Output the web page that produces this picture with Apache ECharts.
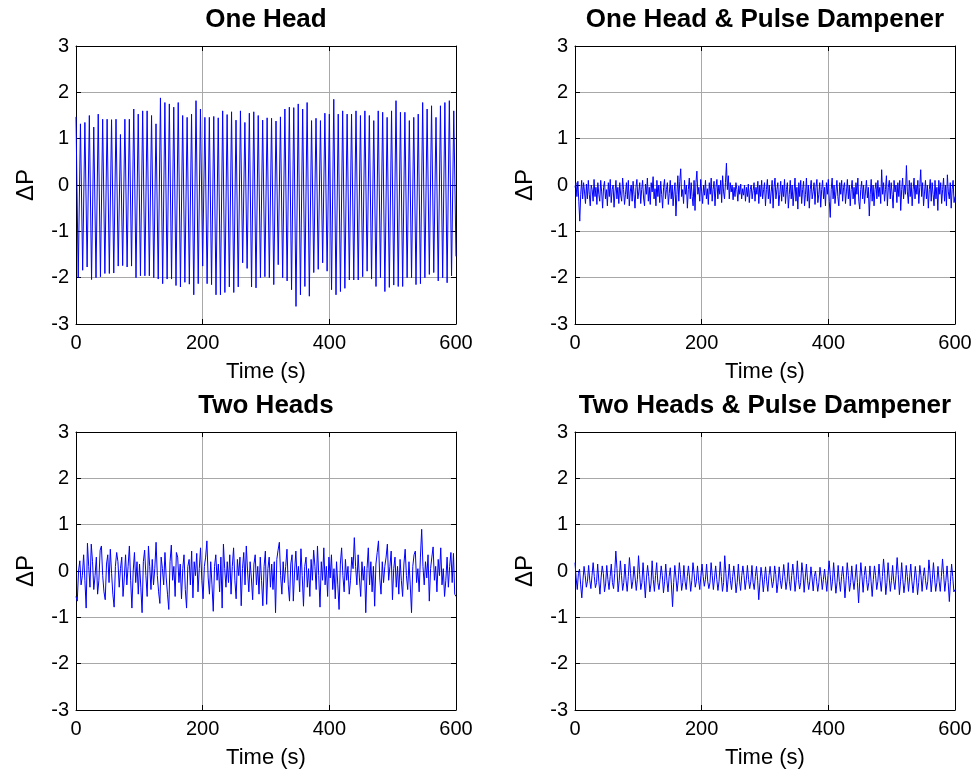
<!DOCTYPE html>
<html>
<head>
<meta charset="utf-8">
<title>Pressure fluctuation</title>
<script src="https://cdn.jsdelivr.net/npm/echarts@6/dist/echarts.min.js"></script>
<style>
  html, body { margin: 0; padding: 0; background: #fff; }
  #main { width: 975px; height: 780px; }
</style>
</head>
<body>
<div id="main"></div>
<script>
// Recording length (s); every trace is sampled evenly over it
const duration = 600;

// Panel titles
const panelTitles = ['One Head', 'One Head & Pulse Dampener', 'Two Heads', 'Two Heads & Pulse Dampener'];

// Axis ticks
const timeTicks = { min: 0, max: 600, interval: 200 };
const dpTicks = { min: -3, max: 3, interval: 1 };

// One Head: stroke maxima and minima, one pair per pump cycle
const oneHeadPeaks = [
  1.47, 1.32, 1.35, 1.50, 1.25, 1.53, 1.42, 1.42, 1.41, 1.42,
  1.09, 1.42, 1.42, 1.64, 1.53, 1.60, 1.60, 1.50, 1.32, 1.88,
  1.78, 1.75, 1.68, 1.78, 1.50, 1.46, 1.53, 1.82, 1.64, 1.46,
  1.46, 1.48, 1.45, 1.60, 1.52, 1.58, 1.40, 1.60, 1.35, 1.55,
  1.58, 1.50, 1.40, 1.45, 1.44, 1.38, 1.47, 1.64, 1.68, 1.67,
  1.75, 1.64, 1.78, 1.39, 1.44, 1.39, 1.55, 1.53, 1.85, 1.53,
  1.60, 1.53, 1.53, 1.60, 1.50, 1.60, 1.50, 1.39, 1.60, 1.57,
  1.46, 1.60, 1.82, 1.57, 1.57, 1.39, 1.46, 1.53, 1.78, 1.64,
  1.71, 1.46, 1.71, 1.78, 1.82, 1.60
];
const oneHeadTroughs = [
  -2.00, -1.84, -1.77, -2.04, -2.00, -1.98, -1.91, -1.91, -1.90, -1.75,
  -1.74, -1.77, -1.75, -2.00, -1.96, -1.96, -1.96, -2.00, -2.03, -2.13,
  -2.03, -2.03, -2.17, -2.20, -2.10, -2.14, -2.37, -2.13, -1.75, -2.13,
  -2.15, -2.37, -2.37, -2.32, -2.20, -2.32, -2.20, -1.68, -1.80, -2.20,
  -2.22, -2.00, -1.98, -2.00, -2.15, -1.72, -2.00, -2.07, -2.26, -2.62,
  -2.37, -2.19, -2.40, -1.89, -1.82, -1.68, -1.86, -2.26, -2.37, -2.30,
  -2.23, -2.05, -2.05, -2.05, -1.98, -1.86, -2.03, -2.19, -2.00, -2.30,
  -2.21, -2.16, -2.19, -2.19, -2.00, -2.00, -2.15, -2.13, -2.00, -1.93,
  -1.89, -2.07, -2.00, -2.11, -1.96, -1.54
];

// One Head & Pulse Dampener (each row spans 30 s)
const oneHeadDamped = [
  -0.05, 0.05, -0.25, 0.08, -0.35, -0.78, -0.20, 0.10, -0.30, 0.05, -0.15, -0.40, 0.02, -0.30, 0.10, -0.20, -0.45, 0.00, -0.10, -0.35,
  0.12, -0.25, -0.05, -0.42, 0.05, -0.20, -0.35, 0.10, -0.15, -0.50, -0.05, 0.08, -0.30, -0.10, -0.45, 0.05, -0.25, 0.12, -0.38, -0.10,
  0.00, -0.48, -0.15, 0.10, -0.30, -0.05, -0.40, 0.05, -0.22, -0.35, 0.15, -0.10, -0.42, -0.20, 0.05, -0.30, 0.10, -0.45, -0.15, 0.00,
  -0.35, 0.08, -0.20, -0.50, -0.05, 0.12, -0.30, -0.15, 0.05, -0.40, -0.10, 0.10, -0.28, -0.45, 0.02, -0.20, 0.15, -0.35, -0.05, -0.42,
  0.05, -0.15, 0.18, -0.30, -0.08, -0.45, 0.10, -0.25, 0.00, -0.38, 0.08, -0.20, -0.50, -0.05, 0.12, -0.30, -0.10, 0.05, -0.42, -0.18,
  0.10, -0.30, 0.00, -0.45, -0.15, 0.05, -0.67, -0.20, 0.20, -0.35, 0.08, 0.35, -0.25, -0.10, -0.40, 0.10, -0.20, 0.00, -0.50, -0.10,
  0.15, -0.30, 0.05, -0.25, -0.45, 0.10, -0.55, 0.05, 0.30, -0.20, -0.05, -0.35, 0.12, -0.15, -0.40, 0.00, -0.22, 0.10, -0.30, -0.08,
  -0.42, 0.05, -0.20, 0.15, -0.35, -0.10, 0.08, -0.45, -0.05, 0.12, -0.30, 0.00, -0.20, 0.10, -0.38, 0.20, -0.15, -0.30, 0.05, 0.47,
  -0.10, 0.20, -0.30, 0.05, -0.15, 0.00, -0.32, -0.05, -0.25, 0.05, -0.10, -0.35, -0.02, -0.20, 0.02, -0.30, -0.08, -0.22, 0.00, -0.35,
  -0.05, -0.25, 0.02, -0.38, -0.10, 0.00, -0.30, -0.12, 0.05, -0.35, -0.05, -0.20, 0.08, -0.40, 0.00, -0.25, 0.10, -0.30, -0.10, 0.05,
  -0.45, -0.10, 0.12, -0.30, 0.00, -0.40, -0.15, 0.10, -0.50, -0.05, 0.15, -0.30, -0.10, 0.05, -0.45, -0.20, 0.08, -0.35, 0.00, -0.25,
  0.12, -0.40, -0.10, 0.05, -0.50, -0.20, 0.10, -0.30, 0.00, -0.45, -0.15, 0.15, -0.35, -0.05, -0.52, 0.05, -0.25, 0.10, -0.40, -0.10,
  0.08, -0.45, -0.20, 0.15, -0.35, 0.00, -0.50, -0.10, 0.10, -0.30, -0.15, 0.05, -0.42, -0.05, 0.12, -0.38, -0.20, 0.05, -0.48, -0.10,
  0.10, -0.30, -0.05, -0.45, 0.05, -0.20, 0.12, -0.35, -0.70, -0.10, 0.15, -0.30, 0.00, -0.40, -0.15, 0.10, -0.25, -0.45, 0.05, -0.20,
  0.10, -0.35, -0.05, 0.05, -0.40, -0.15, 0.12, -0.30, 0.00, -0.45, -0.10, 0.10, -0.30, -0.05, -0.42, 0.05, -0.20, 0.15, -0.35, -0.52,
  -0.10, 0.08, -0.30, 0.00, -0.40, -0.15, 0.10, -0.28, -0.05, -0.67, -0.20, 0.12, -0.35, 0.00, -0.45, -0.10, 0.05, -0.30, 0.10, -0.25,
  -0.05, -0.40, 0.33, -0.20, 0.05, -0.35, -0.10, 0.20, -0.45, -0.05, 0.10, -0.30, 0.05, -0.20, -0.50, 0.10, -0.15, 0.00, -0.38, 0.05,
  -0.25, 0.10, -0.55, -0.10, 0.15, -0.30, 0.00, -0.20, 0.42, -0.15, -0.40, 0.10, -0.25, 0.05, -0.45, -0.10, 0.15, -0.30, 0.00, -0.20,
  0.10, -0.40, -0.05, 0.33, -0.25, 0.05, -0.45, -0.15, 0.10, -0.30, 0.00, -0.50, -0.10, 0.12, -0.35, 0.05, -0.20, -0.45, 0.10, -0.30,
  -0.05, -0.55, 0.10, -0.20, 0.05, -0.40, -0.10, 0.15, -0.35, 0.00, -0.45, 0.22, -0.15, -0.30, 0.05, -0.50, -0.10, 0.10, -0.38, -0.25
];

// Two Heads (each row spans 40 s)
const twoHeads = [
  -0.55, -0.65, 0.00, 0.22, -0.30, -0.10, 0.35, -0.20, -0.80, 0.60, 0.10, -0.35, 0.58, 0.20, -0.40, -0.10, 0.30, -0.50, -0.20, 0.45,
  0.54, -0.10, -0.45, -0.62, 0.15, 0.35, -0.25, 0.47, -0.05, -0.50, -0.78, 0.10, 0.40, 0.20, -0.35, 0.05, 0.30, -0.55, -0.15, 0.35,
  -0.30, 0.10, 0.54, -0.20, -0.80, 0.00, 0.40, -0.25, 0.20, -0.50, 0.15, -0.35, -0.90, 0.20, 0.45, -0.10, -0.55, 0.54, 0.10, -0.40,
  0.25, -0.30, 0.05, 0.62, -0.10, -0.45, -0.70, 0.30, 0.05, -0.30, 0.40, -0.15, -0.50, -0.83, 0.20, 0.56, -0.20, 0.10, -0.55, 0.40,
  0.30, -0.25, 0.15, -0.60, 0.05, 0.35, -0.40, -0.80, 0.10, 0.25, -0.30, 0.43, -0.58, 0.20, -0.10, 0.38, -0.45, 0.05, 0.50, -0.20,
  -0.60, 0.10, 0.30, 0.65, -0.15, -0.50, 0.20, -0.30, -0.87, 0.10, 0.35, -0.20, 0.15, -0.45, 0.30, -0.80, 0.58, 0.05, -0.35, 0.20,
  -0.25, 0.35, -0.50, 0.10, 0.50, -0.20, -0.60, 0.25, -0.10, 0.30, -0.75, 0.05, 0.40, -0.30, 0.54, 0.00, -0.45, 0.20, -0.15, -0.62,
  0.15, 0.35, -0.30, 0.10, -0.50, 0.30, -0.20, -0.75, 0.10, 0.43, -0.72, 0.05, 0.30, -0.35, 0.15, -0.40, 0.20, -0.90, 0.25, 0.45,
  0.62, -0.10, -0.50, 0.20, -0.25, 0.10, 0.47, -0.30, -0.65, 0.15, 0.35, -0.65, 0.00, 0.43, -0.20, 0.10, -0.45, 0.48, -0.10, -0.76,
  0.10, 0.30, -0.35, 0.05, -0.55, 0.25, -0.20, 0.45, 0.10, -0.40, 0.54, -0.10, -0.78, 0.20, -0.20, 0.50, -0.30, 0.10, -0.55, 0.30,
  -0.15, 0.35, -0.40, 0.05, -0.60, 0.20, -0.30, -0.83, 0.15, 0.50, -0.10, -0.45, 0.25, -0.20, 0.10, -0.50, -0.20, 0.30, 0.05, 0.72,
  0.10, -0.30, 0.35, -0.15, -0.55, 0.20, -0.20, 0.10, -0.90, 0.05, 0.50, -0.30, 0.20, -0.45, 0.10, -0.76, 0.15, 0.40, 0.65, -0.15,
  -0.50, 0.20, -0.25, 0.10, 0.30, 0.58, -0.20, 0.10, 0.43, -0.62, 0.05, 0.30, -0.35, 0.10, -0.50, 0.25, -0.20, -0.55, 0.15, 0.47,
  -0.10, -0.40, 0.20, -0.30, -0.90, 0.10, 0.35, 0.43, -0.25, 0.05, -0.45, 0.30, 0.90, 0.10, -0.30, 0.20, -0.15, 0.35, -0.65, 0.05,
  0.30, 0.52, -0.20, 0.10, -0.45, 0.25, -0.10, 0.50, -0.30, 0.05, -0.55, -0.20, 0.30, -0.35, 0.10, 0.40, -0.25, 0.38, -0.50, -0.55
];

// Two Heads & Pulse Dampener: per pump cycle [peak, falling, trough, rising]
const twoHeadsDamped = [
  0.18, -0.15, -0.40, -0.05,   0.04, -0.30, -0.58, -0.20,
  0.10, -0.10, -0.35, -0.22,   0.12, -0.20, -0.38, -0.10,
  0.18, -0.12, -0.36, -0.25,   0.15, -0.22, -0.50, -0.15,
  0.11, -0.05, -0.45, -0.28,   0.12, -0.18, -0.40, -0.12,
  0.15, -0.25, -0.38, -0.05,   0.43,  0.05, -0.45, -0.20,
  0.22, -0.10, -0.42, -0.25,   0.15, -0.20, -0.44, -0.12,
  0.29, -0.05, -0.38, -0.22,   0.10, -0.15, -0.42, -0.18,
  0.33, -0.08, -0.40, -0.25,   0.18, -0.20, -0.58, -0.15,
  0.12, -0.12, -0.45, -0.28,   0.22, -0.18, -0.44, -0.10,
  0.18, -0.25, -0.40, -0.18,   0.11, -0.10, -0.47, -0.22,
  0.15, -0.20, -0.45, -0.12,   0.07, -0.30, -0.77, -0.25,
  0.12, -0.15, -0.44, -0.20,   0.18, -0.08, -0.42, -0.25,
  0.12, -0.22, -0.40, -0.12,   0.11, -0.15, -0.44, -0.20,
  0.18, -0.05, -0.35, -0.22,   0.11, -0.20, -0.40, -0.10,
  0.15, -0.12, -0.33, -0.18,   0.15, -0.22, -0.38, -0.25,
  0.18, -0.10, -0.40, -0.15,   0.11, -0.18, -0.42, -0.22,
  0.20, -0.12, -0.44, -0.25,   0.33, -0.05, -0.45, -0.18,
  0.15, -0.20, -0.40, -0.12,   0.11, -0.15, -0.47, -0.25,
  0.15, -0.22, -0.42, -0.10,   0.11, -0.10, -0.40, -0.20,
  0.12, -0.18, -0.38, -0.22,   0.12, -0.25, -0.40, -0.12,
  0.10, -0.20, -0.62, -0.25,   0.08, -0.12, -0.45, -0.18,
  0.09, -0.22, -0.44, -0.10,   0.10, -0.15, -0.36, -0.22,
  0.11, -0.08, -0.47, -0.25,   0.09, -0.20, -0.38, -0.15,
  0.14, -0.12, -0.40, -0.22,   0.18, -0.22, -0.42, -0.10,
  0.15, -0.10, -0.44, -0.20,   0.22, -0.18, -0.39, -0.25,
  0.18, -0.05, -0.46, -0.15,   0.15, -0.20, -0.40, -0.22,
  0.09, -0.15, -0.43, -0.12,   0.00, -0.22, -0.44, -0.25,
  0.08, -0.12, -0.40, -0.18,   0.04, -0.20, -0.44, -0.10,
  0.22, -0.08, -0.42, -0.22,   0.18, -0.15, -0.48, -0.25,
  0.12, -0.22, -0.44, -0.12,   0.10, -0.18, -0.58, -0.20,
  0.18, -0.10, -0.44, -0.25,   0.11, -0.20, -0.40, -0.15,
  0.14, -0.25, -0.69, -0.22,   0.18, -0.12, -0.46, -0.10,
  0.10, -0.18, -0.42, -0.25,   0.11, -0.22, -0.55, -0.18,
  0.11, -0.10, -0.40, -0.22,   0.15, -0.20, -0.44, -0.12,
  0.26, -0.05, -0.51, -0.25,   0.18, -0.15, -0.44, -0.20,
  0.12, -0.22, -0.40, -0.10,   0.29, -0.08, -0.51, -0.22,
  0.18, -0.18, -0.47, -0.25,   0.12, -0.12, -0.44, -0.15,
  0.15, -0.22, -0.47, -0.20,   0.10, -0.15, -0.51, -0.25,
  0.12, -0.10, -0.44, -0.12,   0.07, -0.20, -0.40, -0.22,
  0.24, -0.05, -0.45, -0.18,   0.18, -0.15, -0.44, -0.25,
  0.10, -0.22, -0.44, -0.12,   0.26, -0.08, -0.44, -0.20,
  0.11, -0.25, -0.66, -0.22,   0.15, -0.12, -0.45, -0.40
];

// Interleave the One Head maxima and minima into one trace
const oneHead = [];
oneHeadPeaks.forEach((p, i) => { oneHead.push(p, oneHeadTroughs[i]); });

// Pair each value with its sample time
function toSeries(values) {
  const dt = duration / (values.length - 1);
  return values.map((v, i) => [i * dt, v]);
}

const fontFamily = "'Liberation Sans', Arial, Helvetica, sans-serif";
const plotW = 380, plotH = 278;
const panels = [
  { title: panelTitles[0], values: oneHead,        left: 76,  top: 46 },
  { title: panelTitles[1], values: oneHeadDamped,  left: 575, top: 46 },
  { title: panelTitles[2], values: twoHeads,       left: 76,  top: 432 },
  { title: panelTitles[3], values: twoHeadsDamped, left: 575, top: 432 }
];

const axisLine = { show: true, onZero: false, lineStyle: { color: '#000', width: 1 } };
const tick = { show: true, inside: true, length: 5, lineStyle: { color: '#000', width: 1 } };
const gridLine = { show: true, lineStyle: { color: '#a8a8a8', width: 1 } };

const grid = [], xAxis = [], yAxis = [], series = [], graphic = [];
panels.forEach((p, i) => {
  grid.push({ left: p.left, top: p.top, width: plotW, height: plotH });
  // bottom / left axes with labels
  xAxis.push({
    type: 'value', gridIndex: i, position: 'bottom', ...timeTicks,
    axisLine, axisTick: tick, splitLine: gridLine,
    axisLabel: { fontSize: 20, color: '#000', margin: 9, fontFamily },
    name: 'Time (s)', nameLocation: 'middle', nameGap: 37,
    nameTextStyle: { fontSize: 22, color: '#000', fontFamily }
  });
  yAxis.push({
    type: 'value', gridIndex: i, position: 'left', ...dpTicks,
    axisLine, axisTick: tick, splitLine: gridLine,
    axisLabel: { fontSize: 20, color: '#000', margin: 7, fontFamily },
    name: 'ΔP', nameLocation: 'middle', nameGap: 38,
    nameTextStyle: { fontSize: 24, color: '#000', fontFamily }
  });
  // top / right axes close the box
  xAxis.push({
    type: 'value', gridIndex: i, position: 'top', ...timeTicks,
    axisLine, axisTick: tick, splitLine: { show: false }, axisLabel: { show: false }
  });
  yAxis.push({
    type: 'value', gridIndex: i, position: 'right', ...dpTicks,
    axisLine, axisTick: tick, splitLine: { show: false }, axisLabel: { show: false }
  });
  series.push({
    type: 'line', xAxisIndex: 2 * i, yAxisIndex: 2 * i,
    data: toSeries(p.values), showSymbol: false, symbol: 'none',
    lineStyle: { color: '#0000ff', width: 1 }, silent: true
  });
  graphic.push({
    type: 'text', x: p.left + plotW / 2, y: p.top - 26,
    style: { text: p.title, fill: '#000', fontSize: 26, fontWeight: 'bold', fontFamily,
             align: 'center', verticalAlign: 'middle' }
  });
});

const chart = echarts.init(document.getElementById('main'));
chart.setOption({
  animation: false,
  backgroundColor: '#fff',
  grid, xAxis, yAxis, series, graphic
});
</script>
</body>
</html>
